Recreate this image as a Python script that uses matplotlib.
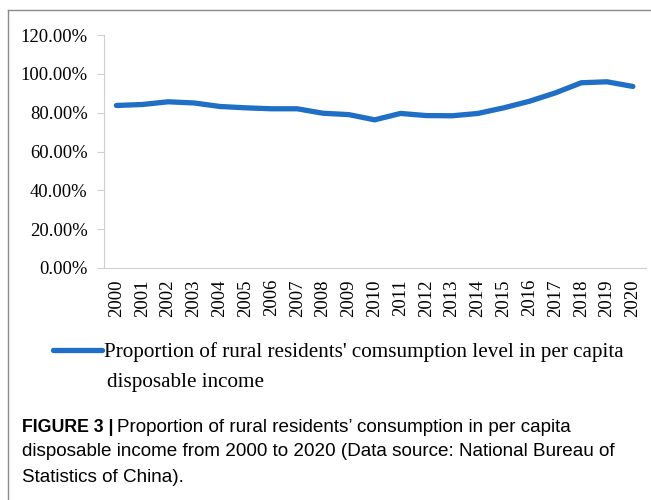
import matplotlib.pyplot as plt
from matplotlib.lines import Line2D
from matplotlib.ticker import PercentFormatter

years = [str(y) for y in range(2000, 2021)]
ratio = [83.7, 84.2, 85.6, 85.0, 83.2, 82.5, 82.0, 82.0, 79.7, 79.0, 76.3,
         79.6, 78.5, 78.4, 79.6, 82.5, 85.9, 90.2, 95.4, 95.9, 93.5]
y_ticks = [0, 20, 40, 60, 80, 100, 120]

serif = 'Liberation Serif'
line_color = '#1f6fc6'

fig = plt.figure(figsize=(6.51, 5.00), dpi=100)
ax = fig.add_axes([0.159, 0.464, 0.833, 0.466])

x = range(len(years))
ln, = ax.plot(x, ratio, color=line_color, lw=3.8, solid_capstyle='round')

ax.set_xlim(-0.5, len(years) - 0.5)
ax.set_ylim(0, 120)
ax.set_yticks(y_ticks)
ax.yaxis.set_major_formatter(PercentFormatter(decimals=2))
ax.set_xticks(list(x))
ax.set_xticklabels(years, rotation=90, fontfamily=serif, fontsize=13.5)
for lab in ax.get_yticklabels():
    lab.set_fontfamily(serif)
    lab.set_fontsize(13.4)

for s in ['top', 'right']:
    ax.spines[s].set_visible(False)
for s in ['left', 'bottom']:
    ax.spines[s].set_color('#d0d0d0')
ax.tick_params(axis='y', length=5, color='#d0d0d0', pad=6.5)
ax.tick_params(axis='x', length=0, pad=8)

# legend (first line via legend, second line as text)
fig.legend([ln], ["Proportion of rural residents' comsumption level in per capita"],
           loc='center left', bbox_to_anchor=(0.082, 0.296), frameon=False,
           handlelength=2.3, handletextpad=0.1, borderaxespad=0, borderpad=0,
           prop={'family': serif, 'size': 15.2})
fig.text(0.164, 0.236, "disposable income", family=serif, fontsize=15.2, va='center')

# frame lines of the panel
fig.add_artist(Line2D([0.0123, 0.0123], [0.0, 0.98], transform=fig.transFigure,
                      color='#8a8a8a', lw=1))
fig.add_artist(Line2D([0.0123, 1.0], [0.98, 0.98], transform=fig.transFigure,
                      color='#8a8a8a', lw=1))

# caption
cap_font = 'Liberation Sans'
cap_size = 13.6
t1 = fig.text(0.034, 0.146, "FIGURE 3 |", family=cap_font, weight='bold',
              fontsize=12.8, va='center')
fig.canvas.draw()
bb = t1.get_window_extent()
fig.text(bb.x1 / fig.bbox.width + 0.005, 0.146,
         "Proportion of rural residents\u2019 consumption in per capita",
         family=cap_font, fontsize=cap_size, va='center')
fig.text(0.034, 0.096,
         "disposable income from 2000 to 2020 (Data source: National Bureau of",
         family=cap_font, fontsize=cap_size, va='center')
fig.text(0.034, 0.046, "Statistics of China).", family=cap_font, fontsize=cap_size, va='center')

fig.savefig('out.png', dpi=100)
